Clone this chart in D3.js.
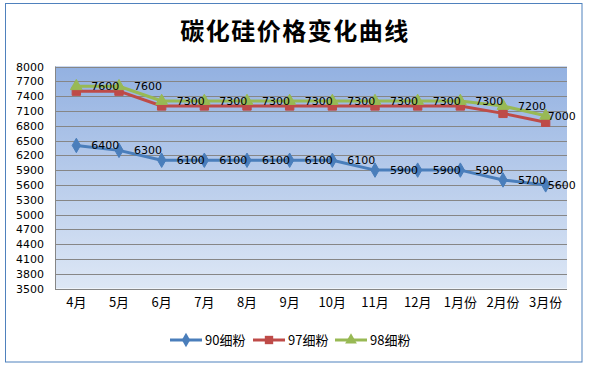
<!DOCTYPE html>
<html><head><meta charset="utf-8">
<script src="https://cdn.jsdelivr.net/npm/d3@7"></script>
<style>body{margin:0;background:#fff}svg{display:block}</style>
</head><body>
<script>
const title = "碳化硅价格变化曲线";
const categories = ["4月","5月","6月","7月","8月","9月","10月","11月","12月","1月份","2月份","3月份"];
const s90 = [6400,6300,6100,6100,6100,6100,6100,5900,5900,5900,5700,5600];
const s97 = [7500,7500,7200,7200,7200,7200,7200,7200,7200,7200,7050,6870];
const s98 = [7600,7600,7300,7300,7300,7300,7300,7300,7300,7300,7200,7000];
const seriesNames = ["90细粉","97细粉","98细粉"];
const yTicks = d3.range(3500, 8001, 300);

const W = 589, H = 367;
const svg = d3.select("body").append("svg").attr("width", W).attr("height", H);
const defs = svg.append("defs");
const grad = defs.append("linearGradient").attr("id","bg").attr("x1",0).attr("y1",0).attr("x2",0).attr("y2",1);
grad.append("stop").attr("offset","0%").attr("stop-color","#93b1e1");
grad.append("stop").attr("offset","100%").attr("stop-color","#dde7f5");

svg.append("rect").attr("x",5.5).attr("y",3.5).attr("width",576.5).attr("height",358.5)
  .attr("fill","#fff").attr("stroke","#4f81bd").attr("stroke-width",1);

const pL = 55, pR = 567, pT = 66.5, pB = 288.5;
const x = d3.scaleBand().domain(categories).range([pL, pR]);
const cx = d => x(d) + x.bandwidth()/2;
const y = d3.scaleLinear().domain([3500, 8000]).range([pB, pT]);

svg.append("rect").attr("x",pL).attr("y",pT).attr("width",pR-pL).attr("height",pB-pT).attr("fill","url(#bg)");

// grid
svg.append("g").selectAll("line").data(yTicks).join("line")
  .attr("x1",pL).attr("x2",pR).attr("y1",d=>Math.round(y(d))+0.5).attr("y2",d=>Math.round(y(d))+0.5)
  .attr("stroke","#868686").attr("stroke-width",1);
svg.append("line").attr("x1",pL+0.5).attr("x2",pL+0.5).attr("y1",pT).attr("y2",pB+0.5).attr("stroke","#868686");

// y axis labels
const yAxis = d3.axisLeft(y).tickValues(yTicks).tickFormat(d3.format("d")).tickSize(0).tickPadding(0);
const gy = svg.append("g").attr("transform",`translate(${pL-11},0)`).call(yAxis);
gy.select(".domain").remove();
gy.selectAll("text").attr("font-family","DejaVu Sans, sans-serif").attr("font-size",11).attr("fill","#000");

// x axis labels
const xAxis = d3.axisBottom(x).tickSize(0).tickPadding(0);
const gx = svg.append("g").attr("transform",`translate(0,${pB+9})`).call(xAxis);
gx.select(".domain").remove();
gx.selectAll("text").attr("font-family","Noto Sans CJK SC, DejaVu Sans, sans-serif").attr("font-size",13).attr("fill","#000");

// title
svg.append("text").attr("x",295).attr("y",40).attr("text-anchor","middle")
  .attr("font-family","Noto Sans CJK SC, sans-serif").attr("font-weight","bold").attr("font-size",24)
  .attr("letter-spacing","1.5").attr("fill","#000").text(title);

const colors = ["#4a7ebb","#be4b48","#98b954"];
const data = [s90, s97, s98];
const line = d3.line().x((d,i)=>cx(categories[i])).y(d=>y(d));

const diamond = d3.symbol().type(d3.symbolDiamond).size(60);
const square = d3.symbol().type(d3.symbolSquare).size(70);
const tri = d3.symbol().type(d3.symbolTriangle).size(60);
const syms = [diamond, square, tri];

data.forEach((vals, k) => {
  const g = svg.append("g");
  g.append("path").datum(vals).attr("d", line).attr("fill","none")
    .attr("stroke",colors[k]).attr("stroke-width",3).attr("stroke-linejoin","round");
  g.selectAll("path.m").data(vals).join("path").attr("class","m")
    .attr("transform",(d,i)=>`translate(${cx(categories[i])},${y(d)})`)
    .attr("d", syms[k]()).attr("fill",colors[k]).attr("stroke",colors[k]).attr("stroke-width",1);
});

// data labels for 90 and 98
const n = categories.length;
[[s90,0],[s98,2]].forEach(([vals,k])=>{
  svg.append("g").selectAll("text").data(vals).join("text")
    .attr("x",(d,i)=>cx(categories[i]) + (i === n-1 ? 2 : 15)).attr("y",d=>y(d)).attr("dy","0.36em")
    .attr("font-family","DejaVu Sans, sans-serif").attr("font-size",11).attr("fill","#000")
    .text(d=>d);
});

// legend
const legY = 340;
const legX = [170, 253, 335];
seriesNames.forEach((nm,k)=>{
  const g = svg.append("g").attr("transform",`translate(${legX[k]},${legY})`);
  g.append("line").attr("x1",0).attr("x2",32).attr("y1",0).attr("y2",0).attr("stroke",colors[k]).attr("stroke-width",3);
  g.append("path").attr("transform","translate(16,0)").attr("d",syms[k]()).attr("fill",colors[k]);
  g.append("text").attr("x",35).attr("y",0).attr("dy","0.36em")
    .attr("font-family","Noto Sans CJK SC, DejaVu Sans, sans-serif").attr("font-size",13).attr("fill","#000").text(nm);
});
</script>
</body></html>
